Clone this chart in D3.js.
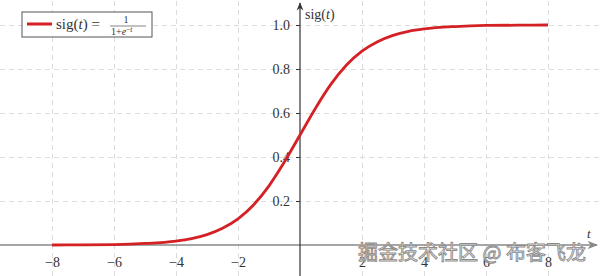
<!DOCTYPE html>
<html>
<head>
<meta charset="utf-8">
<script src="https://cdn.jsdelivr.net/npm/d3@7"></script>
<style>
  body { margin: 0; background: #fff; }
  svg { display: block; font-family: "Liberation Serif", "DejaVu Serif", serif; }
  .grid line { stroke: #dcdcdc; stroke-dasharray: 5,4; }
  .grid .domain { display: none; }
  .tick text { font-size: 14px; fill: #333; font-family: "Liberation Serif", "DejaVu Serif", serif; }
</style>
</head>
<body>
<svg class="chart"></svg>
<script>
// t values and sig(t)
var tVals = [-8, -7, -6, -5, -4, -3.5, -3, -2.5, -2, -1.5, -1, -0.5, 0, 0.5, 1, 1.5, 2, 2.5, 3, 3.5, 4, 5, 6, 7, 8];
var sigVals = [0.000, 0.001, 0.002, 0.007, 0.018, 0.029, 0.047, 0.076, 0.119, 0.182, 0.269, 0.378, 0.500, 0.622, 0.731, 0.818, 0.881, 0.924, 0.953, 0.971, 0.982, 0.993, 0.998, 0.999, 1.000];
var xTicks = [-8, -6, -4, -2, 2, 4, 6, 8];
var yTicks = [0.2, 0.4, 0.6, 0.8, 1.0];

var width = 600, height = 276;
var svg = d3.select(".chart").attr("width", width).attr("height", height);

var x = d3.scaleLinear().domain([-8, 8]).range([52, 548]);
var y = d3.scaleLinear().domain([0, 1]).range([245, 25]);

var defs = svg.append("defs");
function arrow(id, color) {
  defs.append("marker").attr("id", id)
    .attr("viewBox", "0 0 10 10").attr("refX", 9).attr("refY", 5)
    .attr("markerWidth", 7).attr("markerHeight", 7).attr("orient", "auto")
    .append("path").attr("d", "M0,1 L10,5 L0,9 L3,5 Z").attr("fill", color);
}
arrow("arrX", "#888");
arrow("arrY", "#333");

/* grid */
svg.append("g").attr("class", "grid")
  .attr("transform", "translate(0," + height + ")")
  .call(d3.axisBottom(x).tickValues(xTicks).tickSize(-height).tickFormat(""));
svg.append("g").attr("class", "grid")
  .call(d3.axisLeft(y).tickValues(yTicks).tickSize(-width).tickFormat(""));

/* axes lines */
svg.append("line")
  .attr("x1", 0).attr("x2", 597).attr("y1", y(0)).attr("y2", y(0))
  .attr("stroke", "#888").attr("stroke-width", 1.5).attr("marker-end", "url(#arrX)");
svg.append("line")
  .attr("x1", x(0)).attr("x2", x(0)).attr("y1", height).attr("y2", 3)
  .attr("stroke", "#333").attr("stroke-width", 1.2).attr("marker-end", "url(#arrY)");

/* tick labels */
var xAxis = svg.append("g").attr("transform", "translate(0," + y(0) + ")")
  .call(d3.axisBottom(x).tickValues(xTicks).tickSize(0).tickPadding(12)
    .tickFormat(function (d) { return d < 0 ? "\u2212" + (-d) : d; }));
xAxis.select(".domain").remove();

var yAxis = svg.append("g").attr("transform", "translate(" + x(0) + ",0)")
  .call(d3.axisLeft(y).tickValues(yTicks).tickSize(4).tickPadding(6)
    .tickFormat(d3.format(".1f")));
yAxis.select(".domain").remove();
yAxis.selectAll(".tick line").attr("stroke", "#333");

svg.selectAll(".tick text")
  .style("font-family", "'Liberation Serif', 'DejaVu Serif', serif")
  .style("font-size", "14px");

/* axis titles */
svg.append("text").attr("x", 587).attr("y", 238)
  .attr("font-size", 13).attr("font-style", "italic").attr("fill", "#333").text("t");
var sigLabel = svg.append("text").attr("x", 305).attr("y", 19).attr("font-size", 14).attr("fill", "#333");
sigLabel.append("tspan").text("sig(");
sigLabel.append("tspan").attr("font-style", "italic").text("t");
sigLabel.append("tspan").text(")");

/* curve */
var line = d3.line()
  .x(function (d, i) { return x(tVals[i]); })
  .y(function (d) { return y(d); })
  .curve(d3.curveMonotoneX);
svg.append("path").datum(sigVals)
  .attr("d", line)
  .attr("fill", "none").attr("stroke", "#d42126").attr("stroke-width", 2.8);

/* legend */
var lg = svg.append("g");
lg.append("rect").attr("x", 22).attr("y", 12).attr("width", 130).attr("height", 25)
  .attr("fill", "#fff").attr("stroke", "#555").attr("stroke-width", 1);
lg.append("line").attr("x1", 27).attr("x2", 52).attr("y1", 24).attr("y2", 24)
  .attr("stroke", "#d42126").attr("stroke-width", 3);
var lt = lg.append("text").attr("x", 56).attr("y", 29).attr("font-size", 15).attr("fill", "#333");
lt.append("tspan").text("sig(");
lt.append("tspan").attr("font-style", "italic").text("t");
lt.append("tspan").text(") =");
lg.append("text").attr("x", 126).attr("y", 23).attr("font-size", 10).attr("text-anchor", "middle")
  .attr("fill", "#333").text("1");
lg.append("line").attr("x1", 110).attr("x2", 146).attr("y1", 26).attr("y2", 26)
  .attr("stroke", "#333").attr("stroke-width", 0.6);
var den = lg.append("text").attr("x", 111).attr("y", 35).attr("font-size", 10).attr("fill", "#333");
den.append("tspan").text("1+");
den.append("tspan").attr("font-style", "italic").text("e");
den.append("tspan").attr("dy", -3.5).attr("font-size", 7.5).text("\u2212");
den.append("tspan").attr("font-size", 7.5).attr("font-style", "italic").text("t");

/* watermark */
svg.append("text").attr("x", 358).attr("y", 260)
  .attr("font-family", "Noto Sans CJK SC").attr("font-size", 20)
  .attr("fill", "#fff").attr("stroke", "#8a8a8a").attr("stroke-width", 0.9)
  .text("掘金技术社区 @ 布客飞龙");
</script>
</body>
</html>
